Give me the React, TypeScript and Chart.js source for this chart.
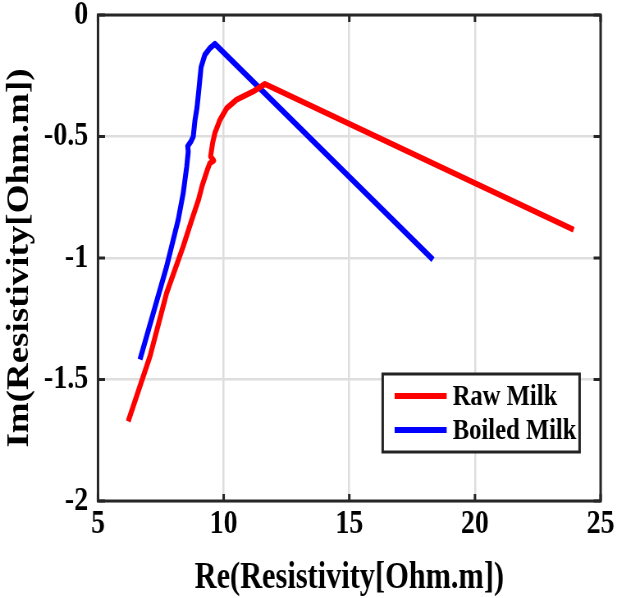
import { useEffect, useRef } from 'react';
import { Chart, registerables } from 'chart.js';

Chart.register(...registerables);

// ---------- data ----------
const seriesNames = ['Raw Milk', 'Boiled Milk'];
const seriesColors = ['#ff0000', '#0000ff'];

const rawRe = [6.20, 7.07, 7.73, 8.39, 8.73, 9.00, 9.15, 9.35, 9.45, 9.60, 9.48, 9.56, 9.65, 9.85, 10.12, 10.51, 11.17, 11.64, 23.93];
const rawIm = [-1.672, -1.404, -1.144, -0.952, -0.843, -0.760, -0.700, -0.637, -0.610, -0.599, -0.582, -0.527, -0.486, -0.432, -0.384, -0.349, -0.315, -0.284, -0.884];

const boiledRe = [6.67, 7.20, 7.73, 8.19, 8.39, 8.53, 8.59, 8.57, 8.70, 8.79, 8.86, 8.94, 9.02, 9.10, 9.25, 9.45, 9.65, 18.33];
const boiledIm = [-1.418, -1.226, -1.035, -0.843, -0.733, -0.624, -0.562, -0.540, -0.520, -0.500, -0.432, -0.380, -0.300, -0.215, -0.164, -0.137, -0.119, -1.007];

const xTicks = [5, 10, 15, 20, 25];
const xTickLabels = ['5', '10', '15', '20', '25'];
const yTicks = [0, -0.5, -1, -1.5, -2];
const yTickLabels = ['0', '-0.5', '-1', '-1.5', '-2'];

const xTitle = 'Re(Resistivity[Ohm.m])';
const yTitle = 'Im(Resistivity[Ohm.m])';

// ---------- layout ----------
const OUT_W = 617;
const OUT_H = 598;
const IN_W = 752; // internal width, horizontally compressed on display
const K = OUT_W / IN_W;
const FONT = '"Liberation Serif", "Times New Roman", serif';

const framePlugin = {
  id: 'frameAndLegend',
  afterDatasetsDraw(chart: any) {
    const ctx = chart.ctx;
    const a = chart.chartArea;
    const xs = chart.scales.x;
    const ys = chart.scales.y;
    ctx.save();
    // inner ticks
    ctx.strokeStyle = '#262626';
    ctx.lineWidth = 3;
    const tl = 7;
    ctx.beginPath();
    xTicks.forEach((v) => {
      const px = xs.getPixelForValue(v);
      ctx.moveTo(px, a.bottom);
      ctx.lineTo(px, a.bottom - tl);
      ctx.moveTo(px, a.top);
      ctx.lineTo(px, a.top + tl);
    });
    yTicks.forEach((v) => {
      const py = ys.getPixelForValue(v);
      ctx.moveTo(a.left, py);
      ctx.lineTo(a.left + tl / K, py);
      ctx.moveTo(a.right, py);
      ctx.lineTo(a.right - tl / K, py);
    });
    ctx.stroke();
    // frame
    ctx.lineWidth = 3;
    ctx.strokeRect(a.left, a.top, a.right - a.left, a.bottom - a.top);

    // legend
    const right = a.right - 25.6;
    const bottom = a.bottom - 49;
    const w = 240;
    const h = 78;
    const left = right - w;
    const top = bottom - h;
    ctx.fillStyle = '#ffffff';
    ctx.fillRect(left, top, w, h);
    ctx.lineWidth = 3;
    ctx.strokeStyle = '#222222';
    ctx.strokeRect(left, top, w, h);
    chart.data.datasets.forEach((ds: any, i: number) => {
      const y = top + 22 + i * 34;
      ctx.strokeStyle = ds.borderColor;
      ctx.lineWidth = 6;
      ctx.beginPath();
      ctx.moveTo(left + 14.6, y);
      ctx.lineTo(left + 78, y);
      ctx.stroke();
      ctx.fillStyle = '#000000';
      ctx.font = `bold 30px ${FONT}`;
      ctx.textBaseline = 'middle';
      ctx.textAlign = 'left';
      ctx.fillText(ds.label, left + 85.3, y + 1);
    });
    ctx.restore();
  },
};

export default function App() {
  const ref = useRef<HTMLCanvasElement | null>(null);

  useEffect(() => {
    if (!ref.current) return;
    const mk = (re: number[], im: number[]) => re.map((x, i) => ({ x, y: im[i] }));
    const chart = new Chart(ref.current, {
      type: 'scatter',
      data: {
        datasets: [
          {
            label: seriesNames[0],
            data: mk(rawRe, rawIm),
            borderColor: seriesColors[0],
            backgroundColor: seriesColors[0],
            showLine: true,
            borderWidth: 6,
            pointRadius: 0,
            tension: 0,
            borderJoinStyle: 'round',
            borderCapStyle: 'butt',
          },
          {
            label: seriesNames[1],
            data: mk(boiledRe, boiledIm),
            borderColor: seriesColors[1],
            backgroundColor: seriesColors[1],
            showLine: true,
            borderWidth: 6,
            pointRadius: 0,
            tension: 0,
            borderJoinStyle: 'round',
            borderCapStyle: 'butt',
          },
        ],
      },
      options: {
        responsive: false,
        animation: false,
        devicePixelRatio: 1,
        events: [],
        layout: { padding: { top: 15, right: 19.5, left: 0, bottom: 0 } },
        plugins: { legend: { display: false }, tooltip: { enabled: false } },
        scales: {
          x: {
            type: 'linear',
            min: 5,
            max: 25,
            afterBuildTicks: (s: any) => {
              s.ticks = xTicks.map((v) => ({ value: v }));
            },
            afterFit: (s: any) => {
              s.height = 97;
            },
            ticks: {
              callback: (v: any) => xTickLabels[xTicks.indexOf(Number(v))] ?? '',
              color: '#000',
              font: { family: FONT, size: 34, weight: 'bold' },
              padding: 3,
              maxRotation: 0,
              autoSkip: false,
            },
            grid: { color: '#dedede', lineWidth: 2.5, drawTicks: false },
            border: { display: false },
            title: {
              display: true,
              text: xTitle,
              color: '#000',
              font: { family: FONT, size: 37, weight: 'bold', lineHeight: 1.0 },
              padding: { top: 0, bottom: 1.5 },
            },
          },
          y: {
            type: 'linear',
            min: -2,
            max: 0,
            afterBuildTicks: (s: any) => {
              s.ticks = yTicks.slice().reverse().map((v) => ({ value: v }));
            },
            afterFit: (s: any) => {
              s.width = 98 / K;
            },
            ticks: {
              callback: (v: any) => yTickLabels[yTicks.indexOf(Number(v))] ?? '',
              color: '#000',
              font: { family: FONT, size: 34, weight: 'bold', lineHeight: 0.05 },
              padding: 12,
              autoSkip: false,
            },
            grid: { color: '#dedede', lineWidth: 2.5, drawTicks: false },
            border: { display: false },
            title: {
              display: true,
              text: yTitle,
              color: '#000',
              font: { family: FONT, size: 37, weight: 'bold' },
              padding: { top: 2, bottom: 0 },
            },
          },
        },
      },
      plugins: [framePlugin],
    } as any);
    return () => chart.destroy();
  }, []);

  return (
    <div style={{ position: 'absolute', left: 0, top: 0, width: OUT_W, height: OUT_H, background: '#fff' }}>
      <canvas
        ref={ref}
        width={IN_W}
        height={OUT_H}
        style={{ width: `${OUT_W}px`, height: `${OUT_H}px`, display: 'block' }}
      />
    </div>
  );
}
